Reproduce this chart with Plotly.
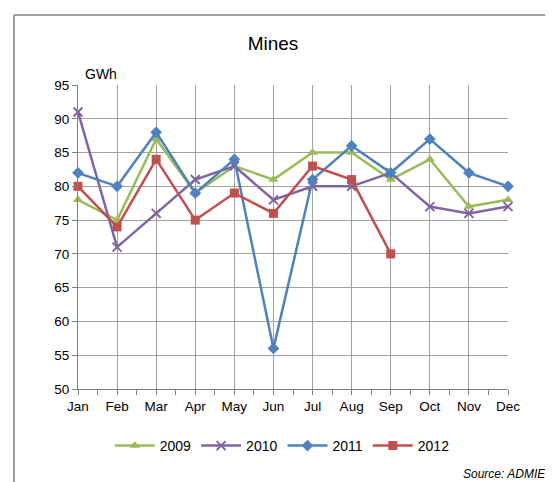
import plotly.graph_objects as go

months = ['Jan', 'Feb', 'Mar', 'Apr', 'May', 'Jun', 'Jul', 'Aug', 'Sep', 'Oct', 'Nov', 'Dec']
y2009 = [78, 75, 87, 79, 83, 81, 85, 85, 81, 84, 77, 78]
y2010 = [91, 71, 76, 81, 83, 78, 80, 80, 82, 77, 76, 77]
y2011 = [82, 80, 88, 79, 84, 56, 81, 86, 82, 87, 82, 80]
y2012 = [80, 74, 84, 75, 79, 76, 83, 81, 70]
y_ticks = [50, 55, 60, 65, 70, 75, 80, 85, 90, 95]

xpos = list(range(len(months)))

series = [
    ('2009', y2009, '#9BBB59', dict(symbol='triangle-up', size=9)),
    ('2010', y2010, '#8064A2', dict(symbol='x-thin', size=9, line=dict(width=2, color='#8064A2'))),
    ('2011', y2011, '#4F81BD', dict(symbol='diamond', size=9)),
    ('2012', y2012, '#C0504D', dict(symbol='square', size=9)),
]

fig = go.Figure()
for name, vals, color, marker in series:
    fig.add_trace(go.Scatter(x=xpos[:len(vals)], y=vals, name=name, mode='lines+markers',
                             line=dict(color=color, width=2.5), cliponaxis=False,
                             marker=dict(color=color, **marker)))

fig.update_layout(
    width=553, height=482,
    margin=dict(l=70, r=53, t=77, b=101),
    paper_bgcolor='white', plot_bgcolor='white',
    font=dict(family='Liberation Sans', size=13, color='black'),
    title=dict(text='Mines', x=(265 / 553), xanchor='center', y=1 - 35 / 482, yanchor='middle',
               font=dict(size=19)),
    showlegend=True,
    legend=dict(orientation='h', x=0.475, xanchor='center', y=-0.1875, yanchor='middle',
                font=dict(size=14), itemwidth=40, tracegroupgap=0),
)
fig.update_xaxes(range=[0, 11], tickvals=xpos, ticktext=months, showgrid=True,
                 gridcolor='#A0A0A0', gridwidth=1, showline=True, linecolor='#7F7F7F',
                 ticks='outside', ticklen=5, tickcolor='#7F7F7F',
                 minor=dict(dtick=0.5, tick0=0, ticks='outside', ticklen=5, tickcolor='#7F7F7F', showgrid=False),
                 zeroline=False, mirror=False, tickfont=dict(size=13.5))
fig.update_yaxes(range=[50, 95], tickvals=y_ticks, showgrid=True, gridcolor='#A0A0A0', gridwidth=1,
                 showline=True, linecolor='#7F7F7F', ticks='outside', ticklen=5, tickcolor='#7F7F7F',
                 zeroline=False, tickfont=dict(size=13.5))

fig.add_annotation(text='GWh', xref='paper', yref='paper', x=(75 - 70) / 430, y=(381 - 66) / 304,
                   xanchor='left', yanchor='middle', showarrow=False, font=dict(size=14))
fig.add_annotation(text='<i>Source: ADMIE</i>', xref='paper', yref='paper', x=(540 - 70) / 430,
                   y=(381 - 466) / 304, xanchor='right', yanchor='middle', showarrow=False,
                   font=dict(size=12))
# outer chart frame
fig.add_shape(type='line', xref='paper', yref='paper', x0=(6 - 70) / 430, x1=(600 - 70) / 430,
              y0=(381 - 7) / 304, y1=(381 - 7) / 304, line=dict(color='#7F7F7F', width=1.5))
fig.add_shape(type='line', xref='paper', yref='paper', x0=(6 - 70) / 430, x1=(6 - 70) / 430,
              y0=(381 - 490) / 304, y1=(381 - 7) / 304, line=dict(color='#7F7F7F', width=1.5))

fig.write_html('out.html')
